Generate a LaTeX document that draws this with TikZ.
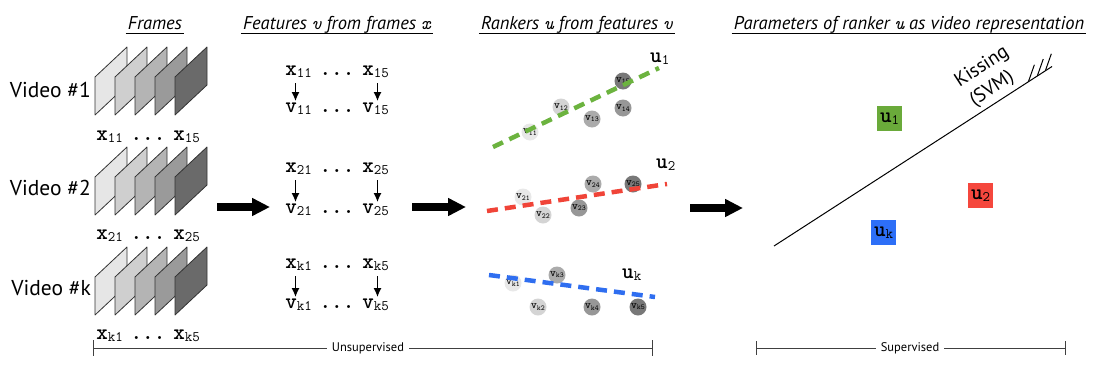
\documentclass[tikz,border=0pt]{standalone}
\usepackage{fontspec}
\setmainfont{PT Sans}
\usetikzlibrary{arrows.meta,calc}
\definecolor{f1}{HTML}{E6E6E6}
\definecolor{f2}{HTML}{CFCFCF}
\definecolor{f3}{HTML}{B4B4B4}
\definecolor{f4}{HTML}{9A9A9A}
\definecolor{f5}{HTML}{6A6A6A}
\definecolor{d1}{HTML}{E8E8E8}
\definecolor{d2}{HTML}{D4D4D4}
\definecolor{d3}{HTML}{ABABAB}
\definecolor{d4}{HTML}{979797}
\definecolor{d5}{HTML}{787878}
\definecolor{rgreen}{HTML}{6CB33F}
\definecolor{rred}{HTML}{F04438}
\definecolor{rblue}{HTML}{2F6EF0}
\definecolor{bgreen}{HTML}{6AAA3A}
\definecolor{bred}{HTML}{F5473D}
\definecolor{bblue}{HTML}{2D6FF7}
\newcommand{\vv}[2]{{\ttfamily\bfseries\fontsize{22}{22}\selectfont #1}{\ttfamily\fontsize{14.5}{14.5}\selectfont\raisebox{-2.5pt}{#2}}}
\newcommand{\sv}[2]{{\ttfamily\bfseries\fontsize{11}{11}\selectfont #1}{\ttfamily\fontsize{7.5}{7.5}\selectfont\raisebox{-1.2pt}{#2}}}
\newcommand{\ddd}{{\ttfamily\bfseries\fontsize{22}{22}\selectfont ...}}
\newcommand{\tv}[1]{{\ttfamily\itshape #1}}
\newcommand{\varrow}[6]{%
  \node[var] (#1-a) at ({#2-38.5},#3) {\vv{#4}{#5}};
  \node[var] (#1-d) at (#2,#3) {\ddd};
  \node[var] (#1-b) at ({#2+38.5},#3) {\vv{#4}{#6}};}
\newcommand{\framestack}[1]{%
  \foreach \i/\c in {0/f1,1/f2,2/f3,3/f4,4/f5}{
    \draw[frame, fill=\c] ({95+20*\i},{#1+30}) -- ++(32,-30) -- ++(0,38) -- ++(-32,30) -- cycle;}}
\begin{document}
\begin{tikzpicture}[x=1pt,y=-1pt,
  title/.style={font=\fontsize{18.5}{20}\selectfont\itshape, inner sep=0pt, anchor=base},
  vidlab/.style={font=\fontsize{21.5}{24}\selectfont, anchor=base east, inner sep=0pt},
  var/.style={inner sep=0pt, anchor=base},
  frame/.style={draw=black!80, line width=0.8pt, line join=round},
  bigarrow/.style={line width=8pt, -{Triangle[length=18pt,width=17pt]}},
  smallarrow/.style={line width=1.8pt, -{Latex[length=9pt,width=8pt]}},
  dotn/.style={circle, minimum size=17pt, inner sep=0pt},
  ubox/.style={minimum size=25pt, inner sep=0pt},
  rk/.style={line width=4.5pt, dash pattern=on 11pt off 7pt},
  brk/.style={draw=black!75, line width=0.9pt},
  brklab/.style={fill=white, font=\fontsize{12.5}{14}\selectfont, inner xsep=5pt, inner ysep=2pt},
  kisslab/.style={rotate=33, font=\fontsize{19.5}{23}\selectfont, inner sep=0pt},
  uline/.style={line width=0.9pt}
]
\useasboundingbox (0,0) rectangle (1105,370);

% titles
\node[title] (t1) at (155,29) {Frames};
\node[title] (t2) at (337,29) {Features \tv{v} from frames \tv{x}};
\node[title] (t3) at (577,29) {Rankers \tv{u} from features \tv{v}};
\node[title] (t4) at (909,29) {Parameters of ranker \tv{u} as video representation};
\foreach \t in {t1,t2,t3,t4}{
  \draw[uline] ([xshift=-2pt,yshift=-4.5pt]\t.base west) -- ([xshift=2pt,yshift=-4.5pt]\t.base east);}

% frames
\framestack{47}
\framestack{147}
\framestack{247}
\node[vidlab] (v1) at (91,97) {Video \#1};
\node[vidlab] (v2) at (91,195) {Video \#2};
\node[vidlab] (vk) at (91,295) {Video \#k};
\varrow{fr1}{148}{140}{x}{11}{15}
\varrow{fr2}{148}{239}{x}{21}{25}
\varrow{frk}{148}{339}{x}{k1}{k5}

% features
\varrow{fx1}{337}{75}{x}{11}{15}
\varrow{fv1}{337}{112}{v}{11}{15}
\varrow{fx2}{337}{172}{x}{21}{25}
\varrow{fv2}{337}{213}{v}{21}{25}
\varrow{fxk}{337}{268}{x}{k1}{k5}
\varrow{fvk}{337}{308}{v}{k1}{k5}
\foreach \r in {1,2,k}{
  \draw[smallarrow] ([xshift=-3pt,yshift=-8pt]fx\r-a.base) -- ([xshift=-3pt,yshift=1pt]fv\r-a.north);
  \draw[smallarrow] ([xshift=2pt,yshift=-8pt]fx\r-b.base) -- ([xshift=2pt,yshift=1pt]fv\r-b.north);}

% big arrows
\coordinate (ba1s) at (217,207); \coordinate (ba1e) at (270,207);
\coordinate (ba2s) at (412,207); \coordinate (ba2e) at (466,207);
\coordinate (ba3s) at (690,208); \coordinate (ba3e) at (743,208);
\draw[bigarrow] (ba1s) -- (ba1e);
\draw[bigarrow] (ba2s) -- (ba2e);
\draw[bigarrow] (ba3s) -- (ba3e);

% rankers
\node[dotn, fill=d1] (c11) at (530,132) {\sv{v}{11}};
\node[dotn, fill=d2] (c12) at (561,107) {\sv{v}{12}};
\node[dotn, fill=d3] (c13) at (592,119) {\sv{v}{13}};
\node[dotn, fill=d4] (c14) at (623,108) {\sv{v}{14}};
\node[dotn, fill=d5] (c15) at (623,81) {\sv{v}{15}};
\coordinate (g1) at (493,147); \coordinate (g2) at (659,68);
\draw[rk, rgreen] (g1) -- (g2);
\node[var, anchor=base west] (u1) at (650,62) {\vv{u}{1}};

\node[dotn, fill=d1] (c21) at (523,197) {\sv{v}{21}};
\node[dotn, fill=d2] (c22) at (543,215) {\sv{v}{22}};
\node[dotn, fill=d4] (c23) at (579,208) {\sv{v}{23}};
\node[dotn, fill=d3] (c24) at (593,184) {\sv{v}{24}};
\node[dotn, fill=d5] (c25) at (633,184) {\sv{v}{25}};
\coordinate (r1) at (487,211); \coordinate (r2) at (667,184);
\draw[rk, rred] (r1) -- (r2);
\node[var, anchor=base west] (u2) at (656,168) {\vv{u}{2}};

\node[dotn, fill=d1] (ck1) at (513,283) {\sv{v}{k1}};
\node[dotn, fill=d2] (ck2) at (538,307) {\sv{v}{k2}};
\node[dotn, fill=d3] (ck3) at (557,275) {\sv{v}{k3}};
\node[dotn, fill=d4] (ck4) at (592,307) {\sv{v}{k4}};
\node[dotn, fill=d5] (ck5) at (638,307) {\sv{v}{k5}};
\coordinate (b1) at (489,275); \coordinate (b2) at (655,297);
\draw[rk, rblue] (b1) -- (b2);
\node[var, anchor=base west] (uk) at (622,278) {\vv{u}{k}};

% parameters
\coordinate (sa) at (774,246); \coordinate (sb) at (1052,66.5);
\draw[line width=1pt] (sa) -- (sb);
\foreach \t in {0.915,0.947,0.976}{
  \draw[line width=1pt] ($(sa)!\t!(sb)$) -- ++(6,-17);}
\node[kisslab] (kiss1) at (982,67) {Kissing};
\node[kisslab] (kiss2) at (992,89) {(SVM)};
\node[ubox, fill=bgreen] (bu1) at (889.5,118.5) {\vv{u}{1}};
\node[ubox, fill=bred] (bu2) at (980.5,195.5) {\vv{u}{2}};
\node[ubox, fill=bblue] (buk) at (883.5,232.5) {\vv{u}{k}};

% brackets
\coordinate (ul) at (93,348); \coordinate (ur) at (652,348);
\draw[brk] (ul) -- (ur);
\draw[brk] ([yshift=8pt]ul) -- ([yshift=-8pt]ul);
\draw[brk] ([yshift=8pt]ur) -- ([yshift=-8pt]ur);
\node[brklab] (ulab) at (368,348) {Unsupervised};
\coordinate (sl) at (756,348); \coordinate (sr) at (1065,348);
\draw[brk] (sl) -- (sr);
\draw[brk] ([yshift=7pt]sl) -- ([yshift=-7pt]sl);
\draw[brk] ([yshift=7pt]sr) -- ([yshift=-7pt]sr);
\node[brklab] (slab) at (910,348) {Supervised};
\end{tikzpicture}
\end{document}
